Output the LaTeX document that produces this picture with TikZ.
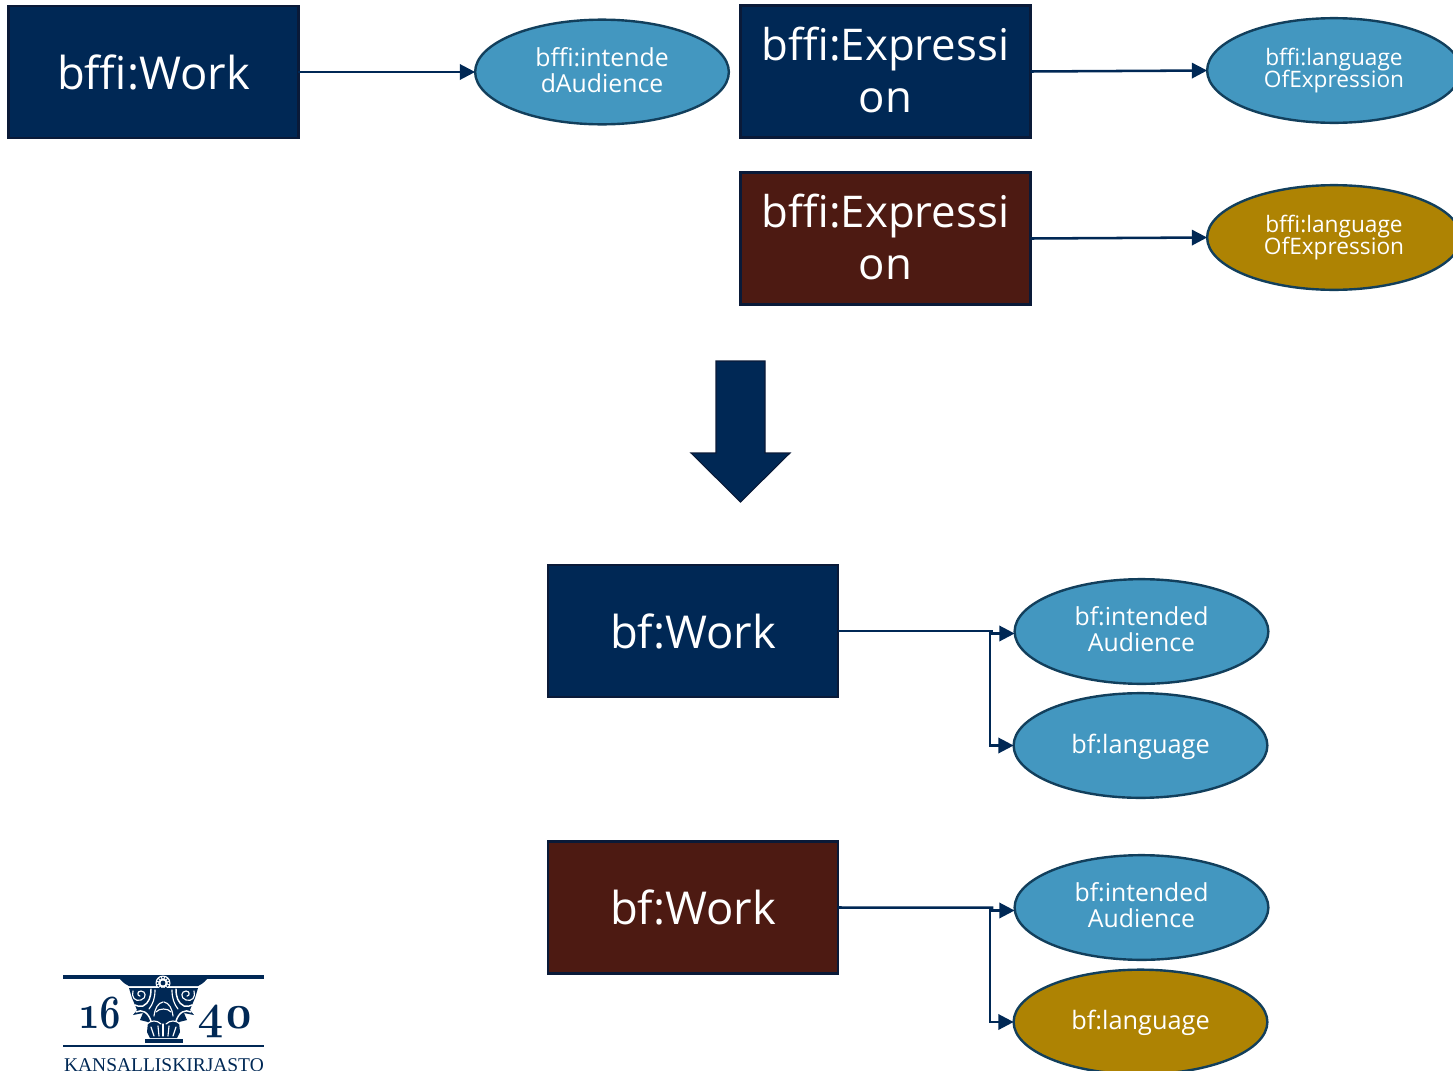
\documentclass[tikz,border=0pt]{standalone}
\usepackage{fontspec}
\setmainfont{Open Sans}
\newfontfamily\logoserif{Liberation Serif}
\newfontfamily\logonum[Numbers=OldStyle]{Latin Modern Roman}
\usetikzlibrary{arrows.meta,shapes.geometric}
\definecolor{navy}{HTML}{002855}
\definecolor{navyedge}{HTML}{0A1A38}
\definecolor{brownbox}{HTML}{4D1A12}
\definecolor{blueell}{HTML}{4397C0}
\definecolor{elledge}{HTML}{123F5C}
\definecolor{goldell}{HTML}{AE8303}
\tikzset{
  boxnode/.style={draw=navyedge,line width=1.9pt,minimum width=217.3pt,minimum height=99.3pt,inner sep=0pt,outer sep=0pt,text=white,align=center,font=\fontsize{34}{39.5}\selectfont},
  exprtext/.style={font=\fontsize{32.8}{39.2}\selectfont},
  navybox/.style={boxnode,fill=navy},
  brownnode/.style={boxnode,fill=brownbox},
  ellnode/.style={ellipse,draw=elledge,line width=1.8pt,minimum width=190.3pt,minimum height=78.5pt,inner sep=0pt,outer sep=0pt,text=white,align=center,font=\fontsize{18.6}{19.5}\selectfont},
  blueellnode/.style={ellnode,fill=blueell},
  goldellnode/.style={ellnode,fill=goldell},
  tightlines/.style={font=\fontsize{17}{17.3}\selectfont},
  singleline/.style={font=\fontsize{19}{19.5}\selectfont},
  conn/.style={draw=navy,line width=1.9pt,-{Triangle[length=11.5pt,width=11.5pt]}},
  logofill/.style={fill=navy,draw=none},
  logowhite/.style={draw=white,line width=.85pt,line cap=round,fill=none},
  logotext/.style={text=navy,inner sep=0pt,anchor=base}
}
\newcommand{\halfcapital}{%
  \draw[logowhite] (140,996) .. controls (137,996) and (137,991) .. (141,991) .. controls (146,991) and (147,998) .. (141,1000) .. controls (135,1002) and (131,997) .. (133,991);
  \draw[logowhite,line width=1.1pt] (151,989) .. controls (151,997) and (149,1003) .. (143,1006) .. controls (140,1007) and (137,1006) .. (135,1005);
  \draw[logowhite] (155,990) .. controls (155,998) and (153,1004) .. (149,1009);
  \draw[logowhite,line width=1.1pt] (136,1012) .. controls (142,1009) and (148,1012) .. (151,1021);
  \draw[logowhite] (163,1002) .. controls (158,1003) and (155,1008) .. (154,1016);
  \draw[logowhite] (147,1024) .. controls (151,1020) and (157,1020) .. (161,1024);
  \draw[logowhite] (151,1027) -- (154,1036);
  \draw[logowhite] (158,1026) -- (159,1036);
}
\begin{document}
\begin{tikzpicture}[x=0.75pt,y=-0.75pt]
\useasboundingbox (0,0) rectangle (1453,1071);
\clip (0,0) rectangle (1453,1071);
\node[navybox] (work1) at (153.5,72) {bffi:Work};
\node[navybox,exprtext] (expr1) at (885.5,71.5) {bffi:Expressi\\on\rule[-2.4pt]{0pt}{0pt}};
\node[brownnode,exprtext] (expr2) at (885.5,238.5) {bffi:Expressi\\on\rule[-2.4pt]{0pt}{0pt}};
\node[blueellnode] (aud1) at (602,72) {bffi:intende\\dAudience\rule[-3pt]{0pt}{0pt}};
\node[blueellnode,tightlines] (lang1) at (1334,70.5) {bffi:language\\[-0.3pt]OfExpression};
\node[goldellnode,tightlines] (lang2) at (1334,237.5) {bffi:language\\[-0.3pt]OfExpression};
\draw[conn] (work1.east) -- (aud1.west);
\draw[conn] (expr1.east) -- (lang1.west);
\draw[conn] (expr2.east) -- (lang2.west);
\path[fill=navy,draw=navyedge,line width=0.8pt] (716,361) -- (765,361) -- (765,453) -- (790,453) -- (740.5,502) -- (691,453) -- (716,453) -- cycle;
\node[navybox] (work2) at (693,631) {bf:Work};
\node[brownnode] (work3) at (693,907.5) {bf:Work};
\node[blueellnode] (aud2) at (1141.5,631.5) {bf:intended\\Audience\rule[-3pt]{0pt}{0pt}};
\node[blueellnode,singleline] (lang3) at (1140.5,745.5) {\rule{0pt}{15.9pt}bf:language};
\node[blueellnode] (aud3) at (1141.5,907.5) {bf:intended\\Audience\rule[-3pt]{0pt}{0pt}};
\node[goldellnode,singleline] (lang4) at (1140.5,1022) {\rule{0pt}{15.9pt}bf:language};
\coordinate (j1) at (992,631);
\coordinate (j1b) at (992,633.5);
\coordinate (k1) at (990,631);
\coordinate (j2) at (992,907.7);
\coordinate (j2b) at (992,910.5);
\coordinate (k2) at (990,907.7);
\draw[conn] (work2.east) -- (j1) -- (j1b) -- (aud2.west |- j1b);
\draw[conn] (k1) -- (k1 |- lang3.west) -- (lang3.west);
\draw[conn] (work3.east) -- (j2) -- (j2b) -- (aud3.west |- j2b);
\draw[conn] (k2) -- (k2 |- lang4.west) -- (lang4.west);
% logo
\fill[logofill] (63,975) rectangle (264,979);
\fill[logofill] (120,979) -- (207,979) .. controls (204,983) and (200,985) .. (198,986) -- (129,986) .. controls (127,985) and (123,983) .. (120,979) -- cycle;
\fill[white] (163,983) circle (7.5);
\fill[logofill] (163,983) circle (2.4);
\foreach \a in {0,30,...,330} \fill[logofill] (163,983) ++(\a:5.4) circle (1.1);
\fill[logofill] (129,988) -- (198,988) -- (195,998) -- (192,1005) -- (190,1010) -- (194,1015) -- (184,1013) -- (187,1020) -- (179,1022) -- (180,1032) -- (177,1038) -- (150,1038) -- (147,1032) -- (148,1022) -- (140,1020) -- (143,1013) -- (133,1015) -- (137,1010) -- (135,1005) -- (132,998) -- cycle;
\fill[logofill] (145,1039) rectangle (183,1043);
\halfcapital
\begin{scope}[shift={(327,0)},xscale=-1]
\halfcapital
\end{scope}
\draw[logowhite] (163,1024) -- (163,1036);
\draw[logowhite] (156,1012) .. controls (159,1008) and (168,1008) .. (171,1012);
\draw[navy,line width=1.2pt] (63,1046) -- (264,1046);
\node[logotext,xscale=0.78] (num1) at (101,1028) {\logonum\bfseries\fontsize{36}{36}\selectfont 16};
\node[logotext,xscale=0.95] (num2) at (225.5,1028) {\logonum\bfseries\fontsize{36}{36}\selectfont 40};
\node[logotext] (logoname) at (164,1071) {\logoserif\fontsize{14.6}{14.6}\selectfont KANSALLISKIRJASTO};
\end{tikzpicture}
\end{document}
